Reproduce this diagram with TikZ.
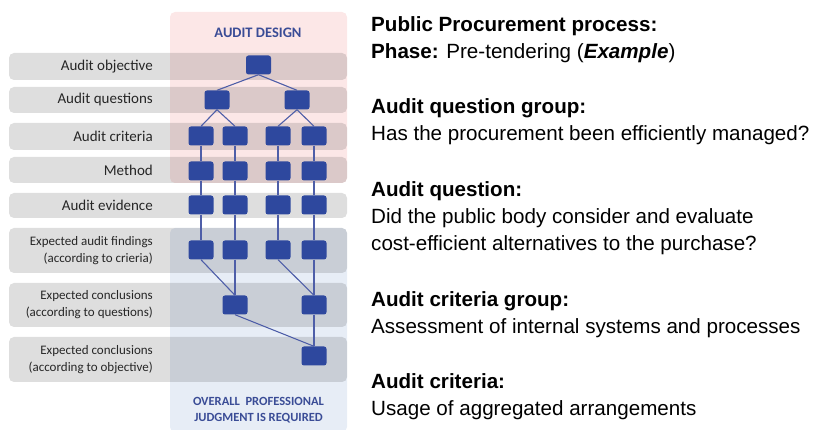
\documentclass[tikz,border=0pt]{standalone}
\usepackage{fontspec}
\setmainfont{Liberation Sans}
\newfontfamily\calfont{Carlito}
\usetikzlibrary{positioning}

\definecolor{pinkbg}{RGB}{252,231,231}
\definecolor{bluebg}{RGB}{231,237,246}
\definecolor{boxblue}{RGB}{46,72,158}
\definecolor{lineblue}{RGB}{78,94,168}
\definecolor{titleblue}{RGB}{58,76,150}
\definecolor{labelgray}{RGB}{38,38,38}

\begin{document}
\begin{tikzpicture}[x=1pt, y=-1pt,
    rowband/.style={fill=black, fill opacity=0.13, rounded corners=5pt},
    rowlabel/.style={anchor=east, align=right, text=labelgray, inner sep=0pt},
    sq/.style={fill=boxblue, rounded corners=2.5pt, minimum width=25pt, minimum height=19pt, inner sep=0pt},
    link/.style={draw=lineblue, line width=1.1pt},
    banner/.style={text=titleblue, align=center, font=\calfont\bfseries\fontsize{14.5}{16}\selectfont},
    info/.style={anchor=base west, inner sep=0pt, font=\fontsize{20.6}{27}\selectfont}]

  \useasboundingbox (0,0) rectangle (815,430);

  % Fundos: desenho e julgamento
  \fill[pinkbg, rounded corners=5pt] (170,12) rectangle (347,183);
  \fill[bluebg, rounded corners=5pt] (170,228) rectangle (347,432);

  % Faixas das etapas
  \foreach \top/\bot/\name/\txt/\fs in {53/80/obj/{Audit objective}/15,
      87/113/que/{Audit questions}/15,
      123/150/cri/{Audit criteria}/15,
      157/183/met/{Method}/15,
      193/218/evi/{Audit evidence}/15,
      228/273/fin/{Expected audit findings\\(according to crieria)}/13,
      283/327/conq/{Expected conclusions\\(according to questions)}/13,
      337/382/cono/{Expected conclusions\\(according to objective)}/13} {
    \fill[rowband] (9,\top) rectangle (347,\bot);
    \node[rowlabel, font=\calfont\fontsize{\fs}{17}\selectfont] (lbl\name) at (153,{(\top+\bot)/2}) {\txt};
  }

  \node[banner] (design) at (258,33) {AUDIT DESIGN};
  \node[banner, font=\calfont\bfseries\fontsize{12.5}{16.5}\selectfont] (judgment) at (258.5,410) {OVERALL\ \ PROFESSIONAL\\JUDGMENT IS REQUIRED};

  % Caixas
  \node[sq] (obj) at (258.5,65) {};
  \node[sq] (q1) at (217,100) {};
  \node[sq] (q2) at (297,100) {};
  \foreach \x [count=\c] in {201,235,278,314} {
    \foreach \y/\r in {136/cr,171/me,205/ev,250/fi} {
      \node[sq] (\r\c) at (\x,\y) {};
    }
  }
  \node[sq] (cq1) at (235,305) {};
  \node[sq] (cq2) at (314,305) {};
  \node[sq] (co) at (314,356) {};

  % Ligacoes
  \draw[link] (obj.south) -- (q1.north);
  \draw[link] (obj.south) -- (q2.north);
  \draw[link] (q1.south) -- (cr1.north);
  \draw[link] (q1.south) -- (cr2.north);
  \draw[link] (q2.south) -- (cr3.north);
  \draw[link] (q2.south) -- (cr4.north);
  \foreach \c in {1,...,4} {
    \draw[link] (cr\c) -- (me\c);
    \draw[link] (me\c) -- (ev\c);
    \draw[link] (ev\c) -- (fi\c);
  }
  \draw[link] (fi1.south) -- (cq1.north);
  \draw[link] (fi2) -- (cq1);
  \draw[link] (fi3.south) -- (cq2.north);
  \draw[link] (fi4) -- (cq2);
  \draw[link] (cq1.south) -- (co.north);
  \draw[link] (cq2) -- (co);

  % Texto do exemplo
  \foreach \y/\txt [count=\i] in {32/{\textbf{Public Procurement process:}},
      59/{\textbf{Phase:} Pre-tendering (\textbf{\textit{Example}})},
      114/{\textbf{Audit question group:}},
      141/{Has the procurement been efficiently managed?},
      197/{\textbf{Audit question:}},
      224/{Did the public body consider and evaluate},
      251/{cost-efficient alternatives to the purchase?},
      307/{\textbf{Audit criteria group:}},
      334/{Assessment of internal systems and processes},
      389/{\textbf{Audit criteria:}},
      416/{Usage of aggregated arrangements}} {
    \node[info] (txt\i) at (371,\y) {\txt};
  }
\end{tikzpicture}
\end{document}
